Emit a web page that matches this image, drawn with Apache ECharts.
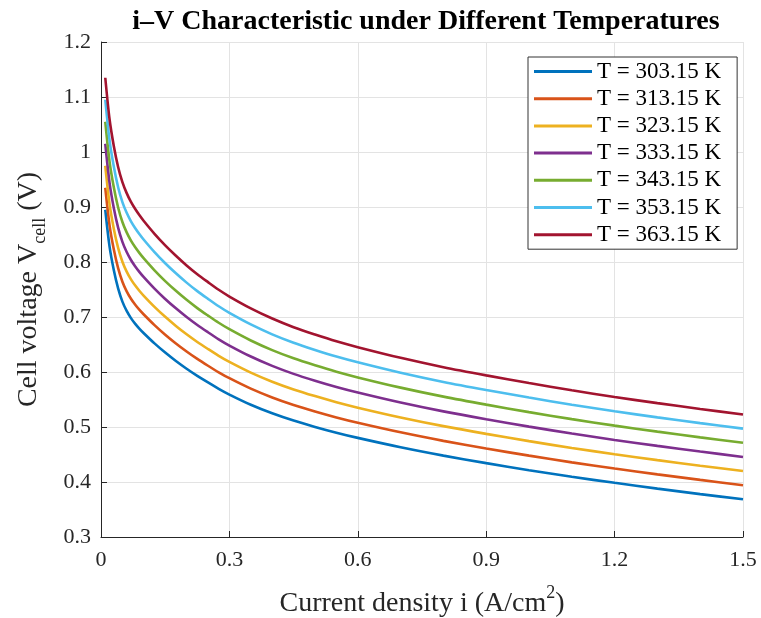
<!DOCTYPE html>
<html>
<head>
<meta charset="utf-8">
<script src="https://cdn.jsdelivr.net/npm/echarts@6/dist/echarts.min.js"></script>
<style>html,body{margin:0;padding:0;background:#fff}#c{width:761px;height:618px}</style>
</head>
<body>
<div id="c"></div>
<script>
const currentDensity = [0.01,0.02,0.03,0.04,0.05,0.06,0.07,0.08,0.09,0.1,0.125,0.15,0.175,0.2,0.225,0.25,0.275,0.3,0.35,0.4,0.45,0.5,0.55,0.6,0.7,0.8,0.9,1.0,1.1,1.2,1.3,1.4,1.5];
const temperatures = ['T = 303.15 K','T = 313.15 K','T = 323.15 K','T = 333.15 K','T = 343.15 K','T = 353.15 K','T = 363.15 K'];
const v303 = [0.895,0.828,0.785,0.752,0.728,0.711,0.698,0.6875,0.6785,0.6705,0.652,0.6353,0.620,0.606,0.593,0.581,0.5695,0.559,0.5405,0.525,0.5117,0.5002,0.4897,0.4802,0.4632,0.448,0.4343,0.4215,0.4095,0.3985,0.388,0.378,0.3685];
const v313 = [0.935,0.8666,0.8226,0.7888,0.7642,0.7467,0.7332,0.7223,0.7129,0.7045,0.6852,0.6678,0.6519,0.6373,0.6238,0.6114,0.5995,0.5887,0.5697,0.5537,0.54,0.5282,0.5174,0.5077,0.4903,0.4748,0.4609,0.4479,0.4357,0.4245,0.4139,0.4038,0.3942];
const v323 = [0.975,0.9052,0.8602,0.8256,0.8004,0.7824,0.7684,0.7571,0.7473,0.7385,0.7184,0.7003,0.6838,0.6686,0.6546,0.6418,0.6295,0.6184,0.5989,0.5824,0.5683,0.5562,0.5451,0.5352,0.5174,0.5016,0.4875,0.4743,0.4619,0.4505,0.4398,0.4296,0.4199];
const v333 = [1.015,0.9438,0.8978,0.8624,0.8366,0.8181,0.8036,0.7919,0.7817,0.7725,0.7516,0.7328,0.7157,0.6999,0.6854,0.6722,0.6595,0.6481,0.6281,0.6111,0.5966,0.5842,0.5728,0.5627,0.5445,0.5284,0.5141,0.5007,0.4881,0.4765,0.4657,0.4554,0.4456];
const v343 = [1.055,0.9824,0.9354,0.8992,0.8728,0.8538,0.8388,0.8267,0.8161,0.8065,0.7848,0.7653,0.7476,0.7312,0.7162,0.7026,0.6895,0.6778,0.6573,0.6398,0.6249,0.6122,0.6005,0.5902,0.5716,0.5552,0.5407,0.5271,0.5143,0.5025,0.4916,0.4812,0.4713];
const v353 = [1.095,1.021,0.973,0.936,0.909,0.8895,0.874,0.8615,0.8505,0.8405,0.818,0.7978,0.7795,0.7625,0.747,0.733,0.7195,0.7075,0.6865,0.6685,0.6532,0.6402,0.6282,0.6177,0.5987,0.582,0.5673,0.5535,0.5405,0.5285,0.5175,0.507,0.497];
const v363 = [1.135,1.0596,1.0106,0.9728,0.9452,0.9252,0.9092,0.8963,0.8849,0.8745,0.8512,0.8303,0.8114,0.7938,0.7778,0.7634,0.7495,0.7372,0.7157,0.6972,0.6815,0.6682,0.6559,0.6452,0.6258,0.6088,0.5939,0.5799,0.5667,0.5545,0.5434,0.5328,0.5227];
const voltages = [v303,v313,v323,v333,v343,v353,v363];
const colors = ['#0072BD','#D95319','#EDB120','#7E2F8E','#77AC30','#4DBEEE','#A2142F'];

const font = '"Liberation Serif","DejaVu Serif",serif';
const chart = echarts.init(document.getElementById('c'), null, {renderer:'canvas'});
chart.setOption({
  backgroundColor:'#fff',
  animation:false,
  title:{text:'i\u2013V Characteristic under Different Temperatures', left:421, top:3, textAlign:'center',
    textStyle:{fontFamily:font, fontWeight:'bold', fontSize:28, color:'#000'}},
  grid:{left:101, right:18, top:42, bottom:81, containLabel:false, outerBoundsMode:'none'},
  legend:{orient:'vertical', left:528, top:57, padding:[3,16,3,6], itemGap:4.2, itemWidth:58, itemHeight:3,
    icon:'rect', backgroundColor:'#fff', borderColor:'#333', borderWidth:1, itemTextGap:5,
    textStyle:{fontFamily:font, fontSize:23, color:'#000'}, data:temperatures},
  xAxis:{type:'value', min:0, max:1.5, interval:0.3,
    name:'{a|Current density i (A/cm}{s|2}{a|)}', nameLocation:'middle', nameGap:47,
    nameTextStyle:{rich:{a:{fontFamily:font, fontSize:28, color:'#262626', lineHeight:34, verticalAlign:'bottom'},
      s:{fontFamily:font, fontSize:18, color:'#262626', lineHeight:34, verticalAlign:'top'}}},
    axisLine:{lineStyle:{color:'#262626', width:1}},
    axisTick:{inside:true, length:6, lineStyle:{color:'#262626'}},
    axisLabel:{fontFamily:font, fontSize:22, color:'#262626', margin:12},
    splitLine:{show:true, lineStyle:{color:'#e3e3e3', width:1}}},
  yAxis:{type:'value', min:0.3, max:1.2, interval:0.1,
    name:'{a|Cell voltage V}{s|cell}{a| (V)}', nameLocation:'middle', nameGap:52, nameRotate:90,
    nameTextStyle:{rich:{a:{fontFamily:font, fontSize:28, color:'#262626', lineHeight:34, verticalAlign:'top'},
      s:{fontFamily:font, fontSize:18, color:'#262626', lineHeight:34, verticalAlign:'bottom'}}},
    axisLine:{show:true, lineStyle:{color:'#262626', width:1}},
    axisTick:{show:true, inside:true, length:6, lineStyle:{color:'#262626'}},
    axisLabel:{fontFamily:font, fontSize:22, color:'#262626', margin:10},
    splitLine:{show:true, lineStyle:{color:'#e3e3e3', width:1}}},
  series: voltages.map((v,k)=>({
    name:temperatures[k], type:'line', symbol:'none', smooth:0.3,
    lineStyle:{color:colors[k], width:2.6}, itemStyle:{color:colors[k]},
    data: currentDensity.map((x,i)=>[x, v[i]])
  }))
});
</script>
</body>
</html>
